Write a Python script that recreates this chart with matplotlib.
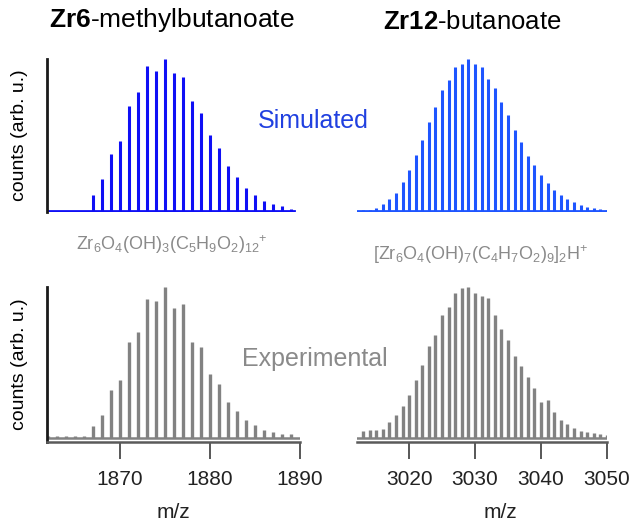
import numpy as np
import matplotlib.pyplot as plt

plt.rcParams['font.family'] = ['Liberation Sans', 'DejaVu Sans']
plt.rcParams['mathtext.fontset'] = 'custom'
plt.rcParams['mathtext.rm'] = 'Liberation Sans'
plt.rcParams['mathtext.it'] = 'Liberation Sans:italic'
plt.rcParams['mathtext.bf'] = 'Liberation Sans:bold'

# Zr6-methylbutanoate : peak heights (normalised)
mz_zr6_sim = np.arange(1867, 1890)
sim_zr6 = [0.108, 0.207, 0.378, 0.459, 0.690, 0.780, 0.954, 0.923, 1.000, 0.905,
           0.884, 0.725, 0.646, 0.499, 0.411, 0.295, 0.224, 0.152, 0.108, 0.068,
           0.044, 0.031, 0.015]
mz_zr6_exp = np.arange(1862, 1890)
exp_zr6 = [0.015, 0.015, 0.015, 0.015, 0.015,
           0.077, 0.152, 0.316, 0.382, 0.636, 0.702, 0.923, 0.905, 1.000, 0.861,
           0.890, 0.634, 0.605, 0.424, 0.358, 0.241, 0.179, 0.119, 0.086, 0.051,
           0.040, 0.026, 0.026]

# Zr12-butanoate
mz_zr12 = np.arange(3013, 3051)
sim_zr12 = [0.004, 0.009, 0.022, 0.044, 0.077, 0.120, 0.190, 0.267, 0.365, 0.470,
            0.584, 0.683, 0.794, 0.864, 0.947, 0.969, 1.000, 0.969, 0.947, 0.869,
            0.810, 0.716, 0.630, 0.532, 0.455, 0.361, 0.300, 0.234, 0.186, 0.136,
            0.105, 0.077, 0.059, 0.042, 0.026, 0.020, 0.015, 0.009]
exp_zr12 = [0.049, 0.051, 0.051, 0.062, 0.108, 0.155, 0.210, 0.283, 0.385, 0.485,
            0.608, 0.681, 0.812, 0.867, 0.962, 0.996, 1.000, 0.962, 0.940, 0.929,
            0.812, 0.723, 0.648, 0.546, 0.476, 0.405, 0.330, 0.239, 0.254, 0.170,
            0.117, 0.095, 0.066, 0.049, 0.040, 0.033, 0.027, 0.022]

ticks_zr6 = [1870, 1880, 1890]
ticks_zr12 = [3020, 3030, 3040, 3050]

W, H = 633, 523
blue_l = '#0f0ff5'
blue_r = '#1e55ff'
grey = '#828282'

def rect(x0, y0, x1, y1):
    return [x0 / W, 1 - y1 / H, (x1 - x0) / W, (y1 - y0) / H]

fig = plt.figure(figsize=(W / 100, H / 100), dpi=100)
ax_tl = fig.add_axes(rect(47, 59, 300, 212))
ax_tr = fig.add_axes(rect(357, 59, 607, 212))
ax_bl = fig.add_axes(rect(47, 287, 300, 442))
ax_br = fig.add_axes(rect(357, 287, 607, 442))

for ax in (ax_tl, ax_tr, ax_bl, ax_br):
    for s in ax.spines.values():
        s.set_visible(False)
    ax.set_yticks([])
    ax.set_xticks([])
    ax.patch.set_alpha(0)

# simulated
ax_tl.vlines(mz_zr6_sim, 0, sim_zr6, color=blue_l, lw=2.2)
ax_tl.plot([1861.9, 1889.3], [0, 0], color=blue_l, lw=2)
ax_tl.set_xlim(1861.9, 1890)
ax_tl.set_ylim(-0.007, 1.0)
ax_tl.spines['left'].set_visible(True)
ax_tl.spines['left'].set_linewidth(2)
ax_tl.spines['left'].set_color('#1a1a1a')

ax_tr.vlines(mz_zr12, 0, sim_zr12, color=blue_r, lw=2.2)
ax_tr.plot([3012.1, 3050.2], [0, 0], color=blue_r, lw=2)
ax_tr.set_xlim(3012.1, 3050)
ax_tr.set_ylim(-0.007, 1.0)

# experimental
ax_bl.vlines(mz_zr6_exp, 0, exp_zr6, color=grey, lw=2.4)
ax_bl.plot([1861.9, 1890], [0, 0], color=grey, lw=1.8)
ax_bl.set_xlim(1861.9, 1890)
ax_bl.set_ylim(-0.026, 1.0)
ax_bl.spines['left'].set_visible(True)
ax_bl.spines['left'].set_linewidth(2)
ax_bl.spines['left'].set_color('#1a1a1a')

ax_br.vlines(mz_zr12, 0, exp_zr12, color=grey, lw=2.4)
ax_br.plot([3012.1, 3050], [0, 0], color=grey, lw=1.8)
ax_br.set_xlim(3012.1, 3050)
ax_br.set_ylim(-0.026, 1.0)

for ax, ticks in ((ax_bl, ticks_zr6), (ax_br, ticks_zr12)):
    ax.spines['bottom'].set_visible(True)
    ax.spines['bottom'].set_linewidth(1.8)
    ax.spines['bottom'].set_color('#5a5a5a')
    ax.set_xticks(ticks)
    ax.tick_params(axis='x', direction='out', length=12, width=1.3,
                   color='#4a4a4a', labelsize=15, pad=8, labelcolor='#222222')

# texts
def ftext(x, y, s, **kw):
    fig.text(x / W, 1 - y / H, s, **kw)

ftext(172, 20, r'$\mathbf{Zr6}$-methylbutanoate', ha='center', va='center', fontsize=19)
ftext(472, 22, r'$\mathbf{Zr12}$-butanoate', ha='center', va='center', fontsize=18.5)
ftext(313, 121, 'Simulated', ha='center', va='center', fontsize=18, color='#2040e0')
ftext(315, 359, 'Experimental', ha='center', va='center', fontsize=18, color='#8a8a8a')
ftext(76, 245, r'$\mathrm{Zr_6O_4(OH)_3(C_5H_9O_2)_{12}{}^{+}}$',
      ha='left', va='center', fontsize=13, color='#8a8a8a')
ftext(373, 255, r'$\mathrm{[Zr_6O_4(OH)_7(C_4H_7O_2)_9]_2H^{+}}$',
      ha='left', va='center', fontsize=13, color='#8a8a8a')
ftext(20, 135, 'counts (arb. u.)', rotation=90, ha='center', va='center', fontsize=14)
ftext(20, 364, 'counts (arb. u.)', rotation=90, ha='center', va='center', fontsize=14)
ftext(173, 512, 'm/z', ha='center', va='center', fontsize=15, color='#222222')
ftext(500, 512, 'm/z', ha='center', va='center', fontsize=15, color='#222222')

fig.savefig('out.png', dpi=100)
